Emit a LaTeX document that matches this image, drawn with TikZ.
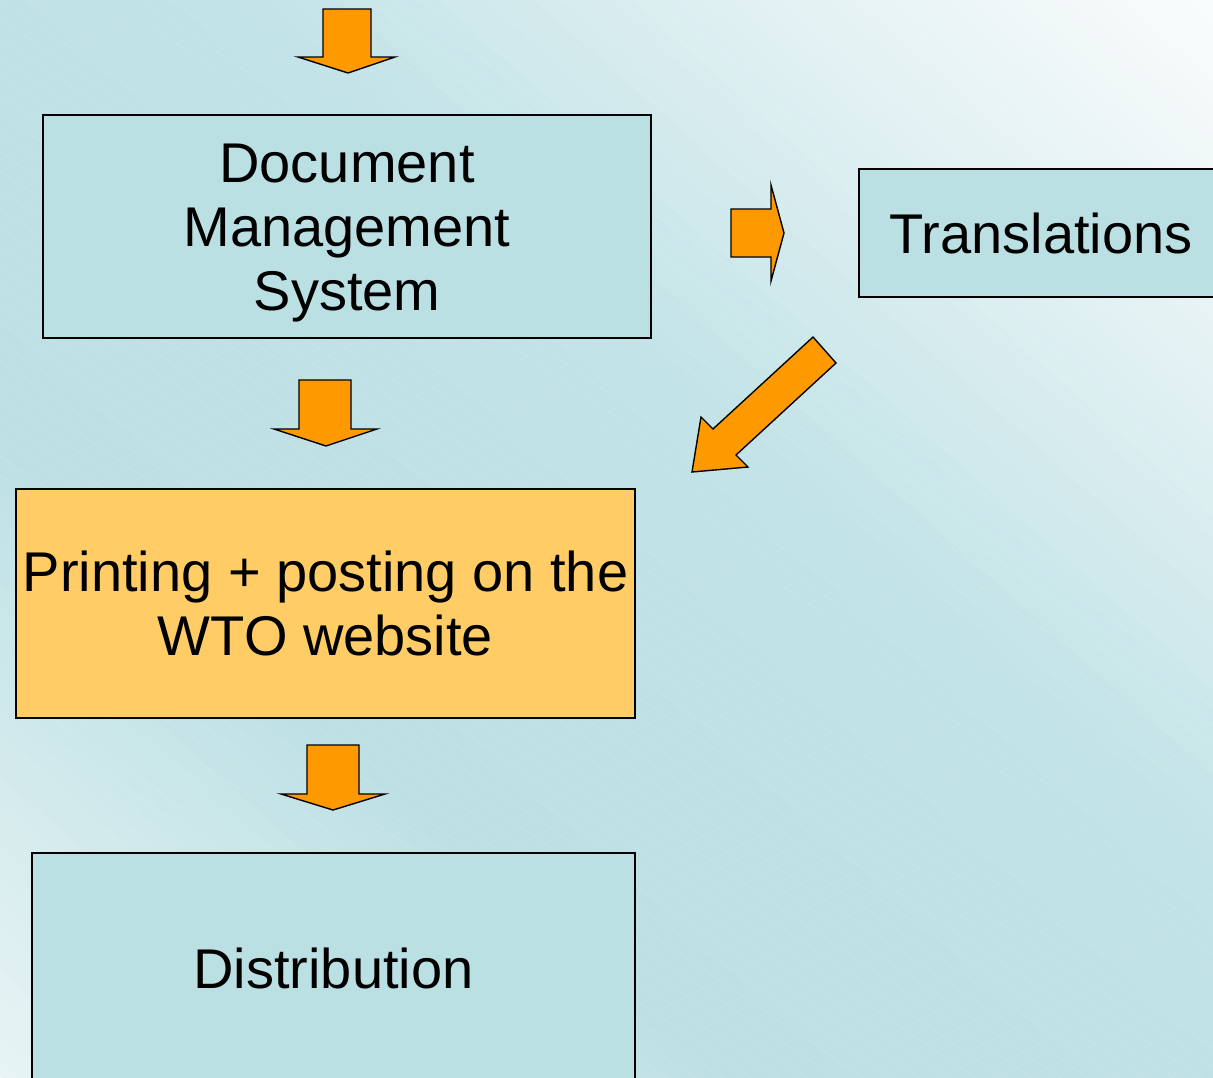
\documentclass[tikz,border=0pt]{standalone}
\usepackage{fontspec}
\setmainfont{Liberation Sans}
\def\bgpw#1#2#3#4#5{((\tm<-0.4) ? (#1+(#2-#1)*(\tm+1)/0.6) : ((\tm<0.2) ? (#2+(#3-#2)*(\tm+0.4)/0.6) : ((\tm<0.6) ? (#3+(#4-#3)*(\tm-0.2)/0.4) : (#4+(#5-#4)*(\tm-0.6)/0.4))))}
\begin{document}
\begin{tikzpicture}[x=1pt,y=-1pt,
  box/.style={draw=black,line width=1.4pt,fill=boxblue,inner sep=0pt,align=center,
    font=\fontsize{56}{64}\selectfont},
  blockarrow/.style={draw=black,line width=1.4pt,fill=arroworange,line join=miter}]
\definecolor{boxblue}{HTML}{BBE0E4}
\definecolor{arroworange}{HTML}{FF9900}
\definecolor{boxorange}{HTML}{FFCC66}
\useasboundingbox (0,0) rectangle (1213,1077);
\clip (0,0) rectangle (1213,1077);
% background: linear gradient across the anti-diagonal
\foreach \i in {0,...,99}{
  \pgfmathsetmacro{\ta}{-1+\i*0.02}
  \pgfmathsetmacro{\tb}{\ta+0.021}
  \pgfmathsetmacro{\tm}{\ta+0.01}
  \pgfmathtruncatemacro{\cr}{round(\bgpw{232}{189}{194}{224}{250})}
  \pgfmathtruncatemacro{\cg}{round(\bgpw{244}{224}{227}{240}{252})}
  \pgfmathtruncatemacro{\cb}{round(\bgpw{245}{228}{231}{242}{252})}
  \definecolor{stripc}{RGB}{\cr,\cg,\cb}
  \fill[stripc] (-100,{1077*(-0.0825-\ta)}) -- (1313,{1077*(1.0825-\ta)})
     -- (1313,{1077*(1.0825-\tb)}) -- (-100,{1077*(-0.0825-\tb)}) -- cycle;
}
% faint texture lines
\foreach \k in {-60,...,40}{
  \draw[white,opacity=0.14,line width=0.6pt] (0,{\k*19}) -- (1213,{\k*19+820});
}
% boxes
\node[box,minimum width=608pt,minimum height=223pt] (dms) at (347,226.5) {\rule{0pt}{52pt}Document\\Management\\System};
\node[box,minimum width=364pt,minimum height=128pt] (tr) at (1041,233) {Translations};
\node[box,fill=boxorange,minimum width=619pt,minimum height=229pt] (pr) at (325.5,603.5) {Printing + posting on the\\WTO website};
\node[box,minimum width=603pt,minimum height=230pt] (di) at (333.5,968) {Distribution};
% block arrows
\draw[blockarrow] (323,9) -- (371,9) -- (371,57) -- (395,57) -- (348,73) -- (298,57) -- (323,57) -- cycle;
\draw[blockarrow] (299,380) -- (351,380) -- (351,429) -- (377,429) -- (326,446) -- (274,429) -- (299,429) -- cycle;
\draw[blockarrow] (307,745) -- (359,745) -- (359,794) -- (385,794) -- (333,810) -- (281,794) -- (307,794) -- cycle;
\draw[blockarrow] (731,209) -- (771,209) -- (771,185) -- (784,233) -- (771,281) -- (771,257) -- (731,257) -- cycle;
\draw[blockarrow] (813,337) -- (836,363) -- (736,455) -- (748,467) -- (692,472) -- (701,417) -- (713,429) -- cycle;
\end{tikzpicture}
\end{document}
